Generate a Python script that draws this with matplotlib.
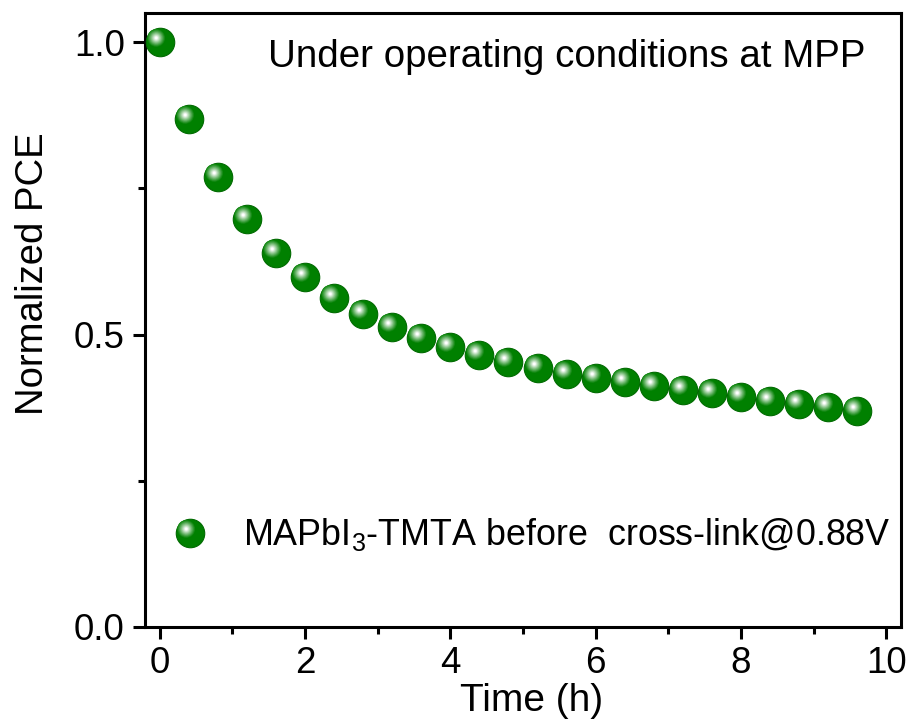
import numpy as np
import matplotlib
matplotlib.use("Agg")
import matplotlib.pyplot as plt
from matplotlib.path import Path
from matplotlib.colors import to_rgb
from matplotlib.legend_handler import HandlerTuple
from matplotlib.ticker import MultipleLocator

# Normalized PCE tracked at the maximum power point
time_h = [0.0, 0.4, 0.8, 1.2, 1.6, 2.0, 2.4, 2.8, 3.2, 3.6, 4.0, 4.4, 4.8,
          5.2, 5.6, 6.0, 6.4, 6.8, 7.2, 7.6, 8.0, 8.4, 8.8, 9.2, 9.6]
norm_pce = [1.000, 0.868, 0.769, 0.697, 0.639, 0.598, 0.562, 0.535, 0.513,
            0.494, 0.478, 0.465, 0.453, 0.443, 0.432, 0.425, 0.419, 0.412,
            0.405, 0.400, 0.393, 0.386, 0.381, 0.376, 0.369]
series_label = "MAPbI$_3$-TMTA before  cross-link@0.88V"
note_text = "Under operating conditions at MPP"
x_ticks = [0, 2, 4, 6, 8, 10]
y_ticks = [0.0, 0.5, 1.0]

plt.rcParams["font.family"] = ["Liberation Sans", "DejaVu Sans"]
plt.rcParams["mathtext.fontset"] = "custom"
plt.rcParams["mathtext.rm"] = "Liberation Sans"
plt.rcParams["mathtext.it"] = "Liberation Sans"
plt.rcParams["mathtext.default"] = "regular"

GREEN = "#008000"


def disc(cx, cy, r):
    """Disc marker path; two bare MOVETOs pin the extent to [-1, 1]."""
    c = Path.unit_circle()
    verts = np.vstack([[1.0, 1.0], [-1.0, -1.0], c.vertices * r + [cx, cy]])
    codes = np.concatenate([[Path.MOVETO, Path.MOVETO], c.codes])
    return Path(verts, codes)


def blend(c1, c2, t):
    a, b = np.array(to_rgb(c1)), np.array(to_rgb(c2))
    return tuple(a + (b - a) * t)


fig = plt.figure(figsize=(9.1, 7.26), dpi=100)
ax = fig.add_axes([0.1593, 0.1364, 0.8308, 0.8457])

ms = 20.5
handles = []
# base sphere
h, = ax.plot(time_h, norm_pce, linestyle="none", marker=disc(0, 0, 1.0),
             markersize=ms, markerfacecolor=GREEN, markeredgecolor="#006a00",
             markeredgewidth=0.8, clip_on=False, zorder=3)
handles.append(h)
# specular highlight, soft radial gradient toward the upper left
hx, hy = -0.30, 0.32
n_layers = 14
for i in range(n_layers):
    t = (i + 1) / n_layers
    r = 0.58 * (1 - t) + 0.09
    col = blend(GREEN, "white", t ** 1.1)
    h, = ax.plot(time_h, norm_pce, linestyle="none", marker=disc(hx, hy, r),
                 markersize=ms, markerfacecolor=col, markeredgewidth=0,
                 clip_on=False, zorder=3 + 0.01 * (i + 1))
    handles.append(h)

ax.set_xlim(-0.2, 10.2)
ax.set_ylim(0, 1.05)
ax.set_xticks(x_ticks)
ax.set_yticks(y_ticks)
ax.xaxis.set_minor_locator(MultipleLocator(1))
ax.yaxis.set_minor_locator(MultipleLocator(0.25))
ax.set_yticklabels([f"{v:.1f}" for v in y_ticks])

for s in ax.spines.values():
    s.set_linewidth(2.2)
ax.tick_params(which="major", direction="out", length=8.6, width=2.2,
               labelsize=26.5, pad=5)
ax.tick_params(which="minor", direction="out", length=5, width=2.2)
ax.tick_params(axis="y", which="major", pad=6)

ax.set_xlabel("Time (h)", fontsize=28)
ax.set_ylabel("Normalized PCE", fontsize=27.5)
ax.xaxis.set_label_coords(0.511, -0.091)
ax.yaxis.set_label_coords(-0.124, 0.575)

ax.text(0.9537, 0.912, note_text, transform=ax.transAxes, ha="right",
        va="baseline", fontsize=27.7)

leg = ax.legend([tuple(handles)], [series_label],
                handler_map={tuple: HandlerTuple(ndivide=1, pad=0)},
                loc="center left", bbox_to_anchor=(0.0357, 0.1498),
                frameon=False, fontsize=25.8, handlelength=1.0,
                handletextpad=0.98, borderpad=0, borderaxespad=0,
                numpoints=1)

fig.savefig("out.png", dpi=100)
